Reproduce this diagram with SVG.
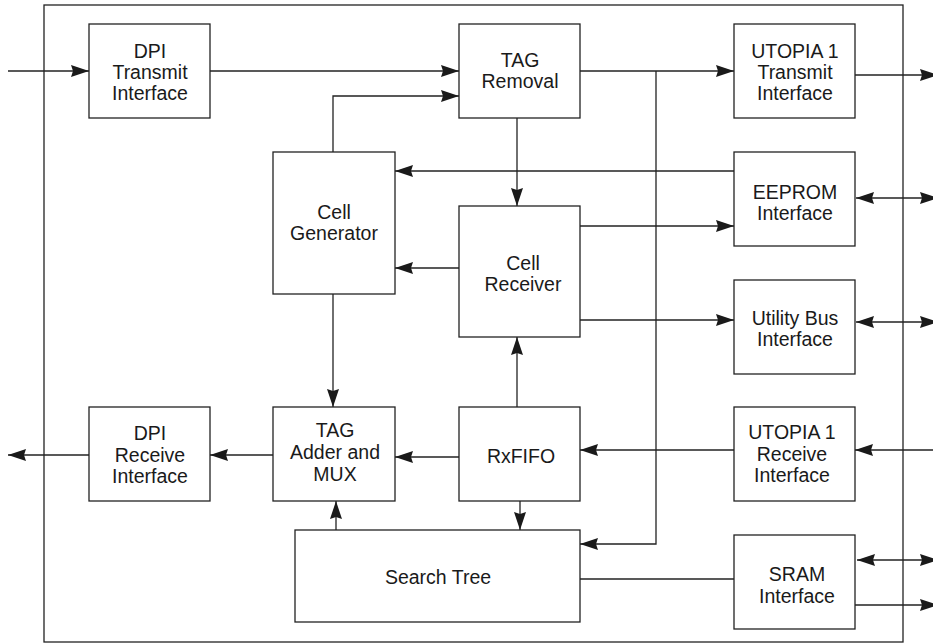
<svg xmlns="http://www.w3.org/2000/svg" width="933" height="644" viewBox="0 0 933 644">
<defs>
<marker id="a" viewBox="0 0 18 12" refX="18" refY="6" markerWidth="18" markerHeight="12" markerUnits="userSpaceOnUse" orient="auto-start-reverse">
<path d="M0,0 L18,6 L0,12 L2,6 Z" fill="#1a1a1a"/>
</marker>
<style>
rect{fill:#fff;stroke:#222;stroke-width:1.3}
text{font-family:"Liberation Sans",Arial,sans-serif;font-size:19.5px;fill:#1a1a1a;text-anchor:middle}
#connectors path{fill:none;stroke:#222;stroke-width:1.3}
.ar{marker-end:url(#a)}
.bi{marker-start:url(#a);marker-end:url(#a)}
</style>
</defs>
<rect width="933" height="644" style="fill:#fff;stroke:none"/>
<rect id="frame" x="44" y="5" width="859" height="637" style="fill:none"/>
<g id="connectors">
<path class="ar" d="M8,71 H89"/>
<path class="ar" d="M210,71 H459"/>
<path class="ar" d="M333,152 V96 H459"/>
<path class="ar" d="M580,71 H734"/>
<path class="ar" d="M656,71 V544 H580"/>
<path class="ar" d="M855,75 H938"/>
<path class="ar" d="M517,118 V206"/>
<path class="ar" d="M734,171 H395"/>
<path class="ar" d="M580,226 H734"/>
<path class="ar" d="M459,268 H395"/>
<path class="bi" d="M856,198 H938"/>
<path class="ar" d="M580,320 H734"/>
<path class="bi" d="M856,322 H938"/>
<path class="ar" d="M333,294 V407"/>
<path class="ar" d="M517,407 V337"/>
<path class="ar" d="M273,455 H210"/>
<path class="ar" d="M89,455 H8"/>
<path class="ar" d="M459,457 H395"/>
<path class="ar" d="M734,450 H580"/>
<path class="ar" d="M940,450 H855"/>
<path class="ar" d="M520,501 V530"/>
<path class="ar" d="M336,530 V501"/>
<path d="M580,579 H734"/>
<path class="bi" d="M857,560 H938"/>
<path class="ar" d="M855,605 H938"/>
</g>
<g id="dpi-tx"><rect x="89" y="24" width="121" height="94"/><text x="150" y="58">DPI</text><text x="150" y="79">Transmit</text><text x="150" y="100">Interface</text></g>
<g id="tag-removal"><rect x="459" y="24" width="121" height="94"/><text x="520" y="67">TAG</text><text x="520" y="88">Removal</text></g>
<g id="utopia-tx"><rect x="734" y="24" width="121" height="94"/><text x="795" y="58">UTOPIA 1</text><text x="795" y="79">Transmit</text><text x="795" y="100">Interface</text></g>
<g id="cell-generator"><rect x="273" y="152" width="122" height="142"/><text x="334" y="219">Cell</text><text x="334" y="240">Generator</text></g>
<g id="eeprom"><rect x="734" y="152" width="121" height="94"/><text x="795" y="199">EEPROM</text><text x="795" y="220">Interface</text></g>
<g id="cell-receiver"><rect x="459" y="206" width="121" height="131"/><text x="523" y="270">Cell</text><text x="523" y="291">Receiver</text></g>
<g id="utility-bus"><rect x="734" y="280" width="121" height="94"/><text x="795" y="325">Utility Bus</text><text x="795" y="346">Interface</text></g>
<g id="dpi-rx"><rect x="89" y="407" width="121" height="94"/><text x="150" y="440">DPI</text><text x="150" y="462">Receive</text><text x="150" y="483">Interface</text></g>
<g id="tag-adder"><rect x="273" y="407" width="122" height="94"/><text x="335" y="437">TAG</text><text x="335" y="459">Adder and</text><text x="335" y="481">MUX</text></g>
<g id="rxfifo"><rect x="459" y="407" width="121" height="94"/><text x="521" y="463">RxFIFO</text></g>
<g id="utopia-rx"><rect x="734" y="407" width="121" height="94"/><text x="792" y="439">UTOPIA 1</text><text x="792" y="461">Receive</text><text x="792" y="482">Interface</text></g>
<g id="search-tree"><rect x="295" y="530" width="285" height="92"/><text x="438" y="584">Search Tree</text></g>
<g id="sram"><rect x="734" y="535" width="121" height="94"/><text x="797" y="581">SRAM</text><text x="797" y="603">Interface</text></g>
</svg>
